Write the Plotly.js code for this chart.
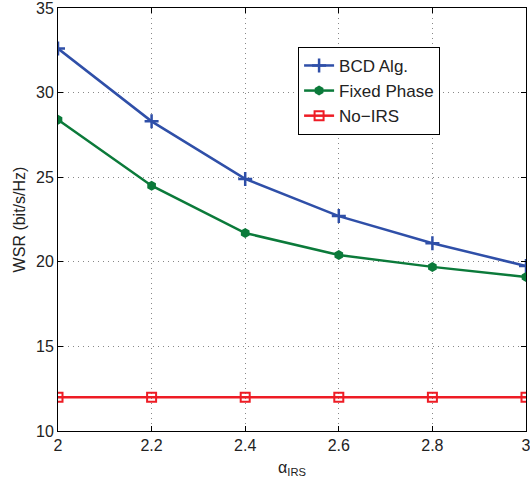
<!DOCTYPE html>
<html><head><meta charset="utf-8">
<script src="https://cdn.plot.ly/plotly-3.0.1.min.js"></script>
<style>html,body{margin:0;padding:0;background:#fff}</style>
</head><body><div id="chart" style="width:530px;height:484px"></div>
<script>
const alpha = [2, 2.2, 2.4, 2.6, 2.8, 3];
const bcd = [32.6, 28.3, 24.9, 22.7, 21.1, 19.75];
const fixedPhase = [28.4, 24.5, 21.7, 20.4, 19.7, 19.1];
const noIRS = [12, 12, 12, 12, 12, 12];
const names = ['BCD Alg.', 'Fixed Phase', 'No\u2212IRS'];
const xTicks = [2, 2.2, 2.4, 2.6, 2.8, 3];
const xTickText = ['2', '2.2', '2.4', '2.6', '2.8', '3'];
const yTicks = [10, 15, 20, 25, 30, 35];

const font = {family: 'Liberation Sans, Arial, sans-serif', size: 16, color: '#222'};
const legendFont = {family: 'Liberation Sans, Arial, sans-serif', size: 17, color: '#222'};
const traces = [
  {x: alpha, y: bcd, name: names[0], mode: 'lines+markers', line: {color: '#2f4fa8', width: 2.5},
   marker: {symbol: 'cross-thin', size: 10, line: {color: '#2f4fa8', width: 2.5}}},
  {x: alpha, y: fixedPhase, name: names[1], mode: 'lines+markers', line: {color: '#0b7a3a', width: 2.5},
   marker: {symbol: 'hexagon', size: 10, color: '#0b7a3a'}},
  {x: alpha, y: noIRS, name: names[2], mode: 'lines+markers', line: {color: '#ee1c25', width: 2.5},
   marker: {symbol: 'square-open', size: 9, color: '#ee1c25', line: {width: 2}}}
];
const axisCommon = {showline: true, mirror: 'ticks', linecolor: '#000', linewidth: 1,
  ticks: 'inside', ticklen: 5, tickcolor: '#000', showgrid: true, gridcolor: '#888',
  griddash: '1px,4px', gridwidth: 1, zeroline: false, tickfont: font,
  ticklabeloverflow: 'allow'};
const layout = {
  width: 530, height: 484, paper_bgcolor: '#fff', plot_bgcolor: '#fff',
  margin: {l: 58, r: 4, t: 8, b: 53},
  font: font,
  showlegend: true,
  legend: {x: 0.513, y: 0.908, xanchor: 'left', yanchor: 'top', bgcolor: '#fff',
    bordercolor: '#000', borderwidth: 1, font: legendFont, tracegroupgap: 0},
  xaxis: Object.assign({}, axisCommon, {range: [1.99999, 3.00001], tickvals: xTicks,
    ticktext: xTickText,
    title: {text: '\u03b1<sub>IRS</sub>', font: font, standoff: 8}}),
  yaxis: Object.assign({}, axisCommon, {range: [9.9999, 35.0001], tickvals: yTicks,
    title: {text: 'WSR (bit/s/Hz)', font: font, standoff: 6}})
};
Plotly.newPlot('chart', traces, layout, {displayModeBar: false, staticPlot: true});
</script></body></html>
